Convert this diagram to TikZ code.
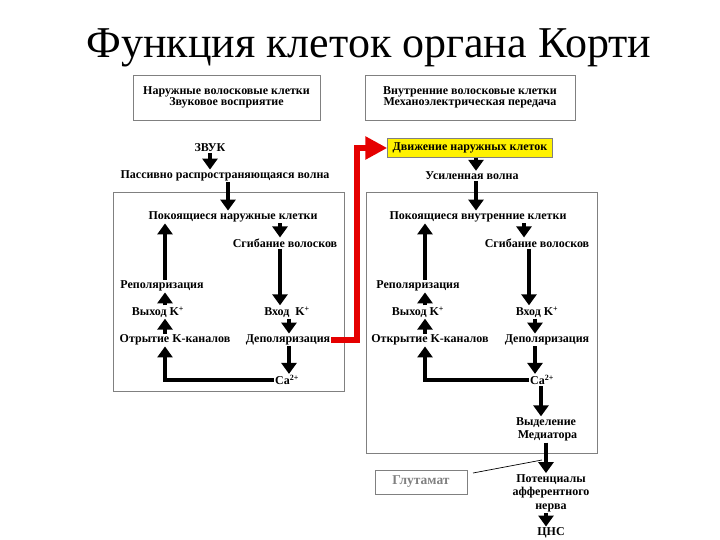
\documentclass[tikz,border=0pt]{standalone}
\usepackage{fontspec}
\setmainfont{Liberation Serif}
\usetikzlibrary{arrows.meta,calc}
\tikzset{
  lbl/.style={font=\bfseries\fontsize{12}{13.5}\selectfont, inner sep=1pt, align=center},
  hdr/.style={font=\bfseries\fontsize{12}{11.5}\selectfont, align=center, draw=black!50, line width=0.8pt, inner sep=0},
  arr/.style={line width=3.2pt, -{Triangle[width=15pt,length=11pt]}},
  redarr/.style={line width=6.5pt, red!90!black, -{Triangle[width=22pt,length=22pt]}},
  grbox/.style={draw=black!50, line width=0.8pt},
}
\newcommand{\kp}{K\textsuperscript{+}}
\newcommand{\cat}{Ca\textsuperscript{2+}}
\begin{document}
\begin{tikzpicture}[x=1pt,y=-1pt]
\useasboundingbox (0,0) rectangle (720,540);
% title
\node[anchor=base, font=\fontsize{44}{48}\selectfont, inner sep=0] (title) at (369,58) {Функция клеток органа Корти};
% header boxes
\node[hdr, minimum width=187pt, minimum height=45pt] (h1) at (226.5,97.5) {Наружные волосковые клетки\\Звуковое восприятие};
\node[hdr, minimum width=210pt, minimum height=45pt] (h2) at (470,97.5) {Внутренние волосковые клетки\\Механоэлектрическая передача};
% big boxes
\draw[grbox] (113,192) rectangle (344,391);
\draw[grbox] (366,192) rectangle (597,453);
% left column
\node[lbl] (zvuk) at (210,148) {ЗВУК};
\node[lbl] (pass) at (225,176) {Пассивно распространяющаяся волна};
\node[lbl] (pok1) at (233,217) {Покоящиеся наружные клетки};
\node[lbl] (sgib1) at (285,243) {Сгибание волосков};
\node[lbl] (rep1) at (162,286) {Реполяризация};
\node[lbl] (vyh1) at (158,312) {Выход \kp};
\node[lbl] (vhod1) at (287,312) {Вход\ \ \kp};
\node[lbl] (otk1) at (175,340) {Отрытие K-каналов};
\node[lbl] (dep1) at (288,340) {Деполяризация};
\node[lbl] (ca1) at (287,380) {\cat};
% right column
\node[draw=black!50, fill=yellow, lbl, minimum width=165pt, minimum height=19pt, inner sep=0] (dvizh) at (470,148) {Движение наружных клеток};
\node[lbl] (usil) at (472,176) {Усиленная волна};
\node[lbl] (pok2) at (478,217) {Покоящиеся внутренние клетки};
\node[lbl] (sgib2) at (537,243) {Сгибание волосков};
\node[lbl] (rep2) at (418,286) {Реполяризация};
\node[lbl] (vyh2) at (418,312) {Выход \kp};
\node[lbl] (vhod2) at (537,312) {Вход \kp};
\node[lbl] (otk2) at (430,340) {Открытие K-каналов};
\node[lbl] (dep2) at (547,340) {Деполяризация};
\node[lbl] (ca2) at (542,380) {\cat};
\node[lbl] (vyd) at (546,429.5) {Выделение\\\ Медиатора};
\node[lbl] (pot) at (551,493) {Потенциалы\\афферентного\\нерва};
\node[lbl] (cns) at (551,533) {ЦНС};
\node[draw=black!50, line width=0.8pt, minimum width=92pt, minimum height=24pt, inner sep=0, text=black!50, font=\bfseries\fontsize{13.5}{14}\selectfont] (glu) at (421,482) {Глутамат};
% columns
\coordinate (cA) at (210,0);
\coordinate (cB) at (228,0);
\coordinate (cL1) at (165,0);
\coordinate (cR1a) at (280,0);
\coordinate (cR1b) at (289,0);
\coordinate (cC) at (476,0);
\coordinate (cL2) at (425,0);
\coordinate (cR2a) at (524,0);
\coordinate (cR2b) at (529,0);
\coordinate (cR2c) at (535,0);
\coordinate (cR2d) at (541,0);
\coordinate (cR2e) at (546,0);
% left arrows
\draw[arr] (zvuk.south -| cA) -- (pass.north -| cA);
\draw[arr] (pass.south -| cB) -- (pok1.north -| cB);
\draw[arr] (pok1.south -| cR1a) -- (sgib1.north -| cR1a);
\draw[arr] (sgib1.south -| cR1a) -- (vhod1.north -| cR1a);
\draw[arr] (vhod1.south -| cR1b) -- (dep1.north -| cR1b);
\draw[arr] (dep1.south -| cR1b) -- (ca1.north -| cR1b);
\draw[arr] (ca1.west) -| (otk1.south -| cL1);
\draw[arr] (otk1.north -| cL1) -- (vyh1.south -| cL1);
\draw[arr] (vyh1.north -| cL1) -- (rep1.south -| cL1);
\draw[arr] (rep1.north -| cL1) -- (pok1.south -| cL1);
% right arrows
\draw[arr] (dvizh.south -| cC) -- (usil.north -| cC);
\draw[arr] (usil.south -| cC) -- (pok2.north -| cC);
\draw[arr] (pok2.south -| cR2a) -- (sgib2.north -| cR2a);
\draw[arr] (sgib2.south -| cR2b) -- (vhod2.north -| cR2b);
\draw[arr] (vhod2.south -| cR2c) -- (dep2.north -| cR2c);
\draw[arr] (dep2.south -| cR2c) -- (ca2.north -| cR2c);
\draw[arr] (ca2.west) -| (otk2.south -| cL2);
\draw[arr] (otk2.north -| cL2) -- (vyh2.south -| cL2);
\draw[arr] (vyh2.north -| cL2) -- (rep2.south -| cL2);
\draw[arr] (rep2.north -| cL2) -- (pok2.south -| cL2);
\draw[arr] (ca2.south -| cR2d) -- (vyd.north -| cR2d);
\draw[arr] (vyd.south -| cR2e) -- (pot.north -| cR2e);
\draw[arr] (pot.south -| cR2e) -- (cns.north -| cR2e);
% red arrow
\coordinate (rc) at (357,0);
\draw[redarr] (dep1.east) -| (rc |- dvizh.west) -- (dvizh.west);
% glutamate line
\coordinate (g0) at (473,473);
\coordinate (g1) at (542,460);
\draw[line width=0.7pt] (g0) -- (g1);
\end{tikzpicture}
\end{document}
